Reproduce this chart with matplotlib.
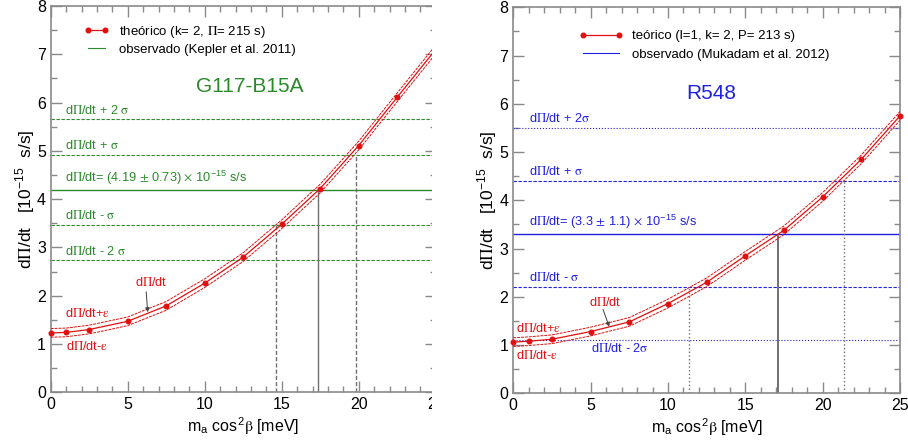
import numpy as np
import matplotlib
matplotlib.use("Agg")
import matplotlib.pyplot as plt
from matplotlib.lines import Line2D
from matplotlib.patches import Rectangle

plt.rcParams['font.family'] = ['Liberation Sans', 'DejaVu Sans']
plt.rcParams['mathtext.fontset'] = 'stix'

# axion mass (m_a cos^2 beta, meV) where the models were computed
ma = [0, 1, 2.5, 5, 7.5, 10, 12.5, 15, 17.5, 20, 22.5, 25]

# theoretical rate of period change, 1e-15 s/s
g117_teo = [1.23, 1.24, 1.30, 1.47, 1.79, 2.26, 2.80, 3.48, 4.22, 5.11, 6.11, 7.10]
r548_teo = [1.06, 1.08, 1.12, 1.28, 1.48, 1.86, 2.30, 2.85, 3.38, 4.07, 4.85, 5.75]
eps = 0.09

# observed values and sigma
g117_obs, g117_sig = 4.19, 0.73
r548_obs, r548_sig = 3.3, 1.1

# crossing of the theoretical curve with obs-sigma, obs, obs+sigma
g117_cross = [14.61, 17.34, 19.81]
r548_cross = [11.35, 17.1, 21.4]

red = '#e01010'
green = '#2a8a2a'
blue = '#2020e0'
gray = '#8a8a8a'

SIG = r'$\mathrm{\sigma}$'
EPS = r'$\mathrm{\varepsilon}$'
DPI = r'd$\Pi$/dt'
E15 = r'10$^{\mathregular{-15}}$'

fig = plt.figure(figsize=(9.08, 4.43), dpi=100)
W, H = 908, 443
axL = fig.add_axes([50.7 / W, 1 - 392.3 / H, 385 / W, 386.3 / H])
axR = fig.add_axes([513.3 / W, 1 - 393.3 / H, 386.7 / W, 386 / H])


def frame(ax):
    ax.set_xlim(0, 25)
    ax.set_ylim(0, 8)
    ax.set_xticks(np.arange(0, 26, 5))
    ax.set_xticks(np.arange(0, 26, 1), minor=True)
    ax.set_yticks(np.arange(0, 9, 1))
    ax.set_yticks(np.arange(0, 8.1, 0.5), minor=True)
    ax.tick_params(which='both', direction='in', top=True, right=True,
                   color=gray, labelsize=11.5, width=1)
    ax.tick_params(which='major', length=8, pad=3.5)
    ax.tick_params(which='minor', length=4.5)
    for s in ax.spines.values():
        s.set_color(gray)
        s.set_linewidth(1.2)
    ax.set_xlabel(r'm$_{\mathregular{a}}$ cos$^{\mathregular{2}}\mathrm{\beta}$ [meV]',
                  fontsize=11.5, labelpad=2)
    ax.set_ylabel(DPI + '   [' + E15 + '  s/s]', fontsize=12.5, labelpad=0)


def curves(ax, teo):
    teo = np.array(teo)
    ax.plot(ma, teo + eps, color=red, lw=0.7, ls=(0, (3, 1)), zorder=3)
    ax.plot(ma, teo - eps, color=red, lw=0.7, ls=(0, (3, 1)), zorder=3)
    ax.plot(ma, teo, color=red, lw=0.9, marker='o', ms=3.3, mec=red, mfc=red,
            zorder=4, clip_on=False)


def arrow(ax, tail, head):
    ax.annotate('', xy=head, xytext=tail,
                arrowprops=dict(arrowstyle='-|>', color='#404040', lw=0.7,
                                mutation_scale=6, shrinkA=0, shrinkB=0))


# G117-B15A
frame(axL)
for k in [2, 1, -1, -2]:
    axL.axhline(g117_obs + k * g117_sig, color=green, lw=0.8, ls=(0, (3, 1.5)))
axL.axhline(g117_obs, color=green, lw=1.0)
for xc, yc, ls in zip(g117_cross, [g117_obs - g117_sig, g117_obs, g117_obs + g117_sig],
                      [(0, (3, 1.5)), '-', (0, (3, 1.5))]):
    axL.vlines(xc, 0, yc, color='#707070', lw=1.0, ls=ls)
curves(axL, g117_teo)

g_lab = [(g117_obs + 2 * g117_sig, DPI + ' + 2 ' + SIG),
         (g117_obs + g117_sig, DPI + ' + ' + SIG),
         (g117_obs, DPI + r'= (4.19 $\pm$ 0.73) $\times$ ' + E15 + ' s/s'),
         (g117_obs - g117_sig, DPI + ' - ' + SIG),
         (g117_obs - 2 * g117_sig, DPI + ' - 2 ' + SIG)]
for yv, txt in g_lab:
    axL.text(0.95, yv + 0.06, txt, color=green, fontsize=9.2, va='bottom')
axL.text(12.9, 6.33, 'G117-B15A', color=green, fontsize=15, ha='center', va='center')
axL.text(0.9, 1.63, DPI + '+' + EPS, color=red, fontsize=9.2, va='center')
axL.text(1.0, 0.94, DPI + '-' + EPS, color=red, fontsize=9.2, va='center')
axL.text(6.55, 2.28, DPI, color=red, fontsize=9.2, ha='center', va='center')
arrow(axL, (6.2, 2.08), (6.3, 1.66))
hL = [Line2D([], [], color=red, lw=0.9, marker='o', ms=3.3),
      Line2D([], [], color=green, lw=0.8)]
axL.legend(hL, [r'theórico (k= 2, $\Pi$= 215 s)', 'observado (Kepler et al. 2011)'],
           loc='upper left', bbox_to_anchor=(0.055, 0.985), frameon=False,
           fontsize=9.5, handlelength=1.9, handletextpad=0.8, labelspacing=0.3,
           numpoints=2)

# R548
frame(axR)
for k, ls in zip([2, 1, -1, -2], [':', (0, (3, 1.5)), (0, (3, 1.5)), ':']):
    axR.axhline(r548_obs + k * r548_sig, color=blue, lw=0.8, ls=ls)
axR.axhline(r548_obs, color=blue, lw=1.0)
for xc, yc, ls in zip(r548_cross, [r548_obs - r548_sig, r548_obs, r548_obs + r548_sig],
                      [':', '-', ':']):
    axR.vlines(xc, 0, yc, color='#707070', lw=1.4 if ls == '-' else 1.0, ls=ls)
curves(axR, r548_teo)

r_lab = [(r548_obs + 2 * r548_sig, DPI + ' + 2' + SIG),
         (r548_obs + r548_sig, DPI + ' + ' + SIG),
         (r548_obs, DPI + r'= (3.3 $\pm$ 1.1) $\times$ ' + E15 + ' s/s'),
         (r548_obs - r548_sig, DPI + ' - ' + SIG)]
for yv, txt in r_lab:
    axR.text(1.0, yv + 0.06, txt, color=blue, fontsize=9.2, va='bottom')
axR.text(5.0, 0.93, DPI + ' - 2' + SIG, color=blue, fontsize=9.2, va='center')
axR.text(12.8, 6.22, 'R548', color=blue, fontsize=15, ha='center', va='center')
axR.text(0.2, 1.34, DPI + '+' + EPS, color=red, fontsize=9.2, va='center')
axR.text(0.2, 0.79, DPI + '-' + EPS, color=red, fontsize=9.2, va='center')
axR.text(5.95, 1.88, DPI, color=red, fontsize=9.2, ha='center', va='center')
arrow(axR, (5.8, 1.74), (6.2, 1.38))
hR = [Line2D([], [], color=red, lw=0.9, marker='o', ms=3.3),
      Line2D([], [], color=blue, lw=0.8)]
axR.legend(hR, ['teórico (l=1, k= 2, P= 213 s)', 'observado (Mukadam et al. 2012)'],
           loc='upper left', bbox_to_anchor=(0.14, 0.972), frameon=False,
           fontsize=9.5, handlelength=3.3, handletextpad=0.7, labelspacing=0.5,
           numpoints=2)

# the left panel is trimmed just short of its right edge
fig.patches.append(Rectangle((432 / W, 0), 24 / W, 1, transform=fig.transFigure,
                             facecolor='white', edgecolor='none', zorder=10))

fig.savefig('out.png', dpi=100)
